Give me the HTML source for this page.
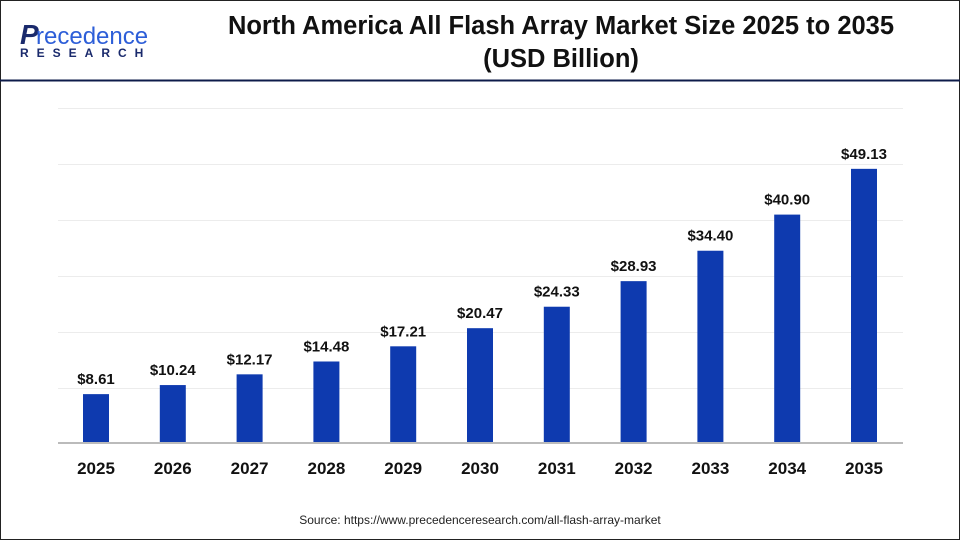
<!DOCTYPE html>
<html><head><meta charset="utf-8"><style>
body{margin:0;width:960px;height:540px;overflow:hidden;background:#fff;font-family:"Liberation Sans",Arial,sans-serif}
</style></head><body>
<svg width="960" height="540" xmlns="http://www.w3.org/2000/svg" font-family="Liberation Sans, Arial, sans-serif">
<rect x="0.5" y="0.5" width="959" height="539" fill="#fff" stroke="#222" stroke-width="1"/>
<line x1="0" y1="80.5" x2="960" y2="80.5" stroke="#0d1b4a" stroke-width="2"/>
<text x="20" y="44" font-size="28" fill="#1a2a6c" font-weight="bold" font-style="italic">P</text>
<text x="36" y="44" font-size="24" fill="#2d5ed8">recedence</text>
<text x="20" y="57" font-size="12" fill="#1a2a6c" font-weight="bold" letter-spacing="8">RESEARCH</text>
<text x="561" y="34" font-size="25.5" font-weight="bold" text-anchor="middle" fill="#111">North America All Flash Array Market Size 2025 to 2035</text>
<text x="561" y="67" font-size="25.5" font-weight="bold" text-anchor="middle" fill="#111">(USD Billion)</text>
<g stroke="#ececec" stroke-width="1">
<line x1="58" y1="108.5" x2="903" y2="108.5"/><line x1="58" y1="164.5" x2="903" y2="164.5"/>
<line x1="58" y1="220.5" x2="903" y2="220.5"/><line x1="58" y1="276.5" x2="903" y2="276.5"/>
<line x1="58" y1="332.5" x2="903" y2="332.5"/><line x1="58" y1="388.5" x2="903" y2="388.5"/>
</g>
<g id="bars" fill="#0e3aaf"></g>
<line x1="58" y1="443" x2="903" y2="443" stroke="#bbb" stroke-width="2"/>
<g id="lbl" font-size="15" font-weight="bold" fill="#111" text-anchor="middle"></g>
<text x="480" y="524" font-size="12" text-anchor="middle" fill="#222">Source: https://www.precedenceresearch.com/all-flash-array-market</text>
<script>
var v=[8.61,10.24,12.17,14.48,17.21,20.47,24.33,28.93,34.40,40.90,49.13],ns="http://www.w3.org/2000/svg",b=document.getElementById('bars'),l=document.getElementById('lbl');
v.forEach(function(d,i){var cx=96+i*76.8,h=d*5.56,r=document.createElementNS(ns,'rect');r.setAttribute('x',cx-13);r.setAttribute('y',442-h);r.setAttribute('width',26);r.setAttribute('height',h);b.appendChild(r);
var t=document.createElementNS(ns,'text');t.setAttribute('x',cx);t.setAttribute('y',442-h-10);t.textContent='$'+d.toFixed(2);l.appendChild(t);
var y=document.createElementNS(ns,'text');y.setAttribute('x',cx);y.setAttribute('y',474);y.setAttribute('font-size','17');y.textContent=2025+i;l.appendChild(y);});
</script>
</svg>
</body></html>
